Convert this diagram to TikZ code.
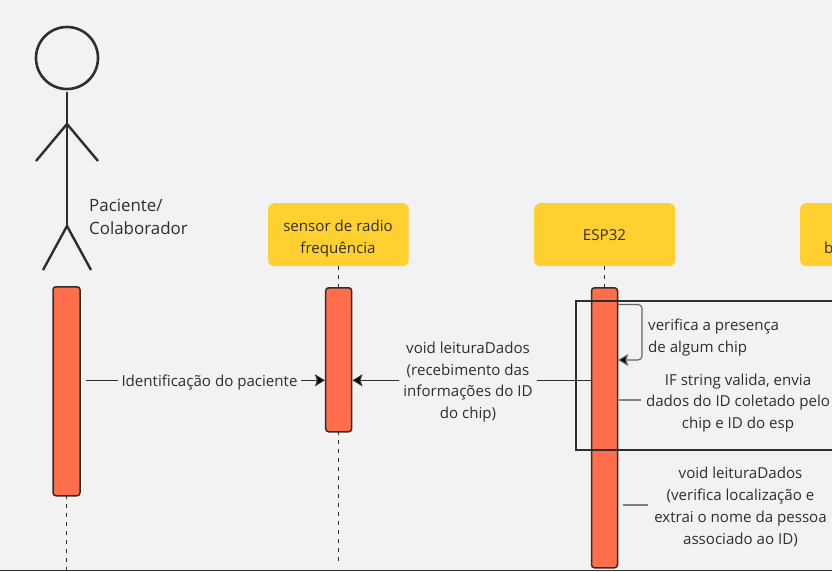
\documentclass[tikz,border=0pt]{standalone}
\usepackage{fontspec}
\setmainfont{Open Sans}
\usetikzlibrary{arrows.meta}
\definecolor{bgc}{HTML}{F2F2F2}
\definecolor{ink}{HTML}{2E2E2E}
\definecolor{yel}{HTML}{FFD02F}
\definecolor{org}{HTML}{FF6E4A}
\tikzset{
 x=1pt,y=-1pt,
 lbl/.style={font=\fontsize{15.1}{21.8}\selectfont,text=ink,align=center,inner sep=0pt},
 lifebox/.style={fill=yel,rounded corners=6pt,draw=none,minimum height=63pt,anchor=north west,inner sep=0pt},
 act/.style={fill=org,draw=ink,line width=1.5pt,rounded corners=3pt,anchor=north,minimum width=26pt,inner sep=0pt},
 life/.style={line width=.8pt,draw=ink,dash pattern=on 4pt off 5pt},
 msg/.style={line width=1.2pt,draw=ink},
 hd/.style={-{Stealth[length=10pt,width=12pt,inset=2pt,fill=black]}},
 note/.style={line width=1.1pt,draw=gray},
 stick/.style={line width=2.4pt,draw=ink}
}
\begin{document}
\begin{tikzpicture}
\useasboundingbox (0,0) rectangle (832,571);
\fill[bgc] (0,0) rectangle (832,571);
\begin{scope}
\clip (0,0) rectangle (832,571);
% actor
\node[circle,draw=ink,line width=2.6pt,minimum size=62pt,inner sep=0pt] (head) at (67,58) {};
\coordinate (neck) at (67,124);
\coordinate (hip) at (67,226);
\coordinate (handl) at (36,161);
\coordinate (handr) at (98,161);
\coordinate (footl) at (43,270);
\coordinate (footr) at (91,270);
\draw[stick] (head.south) ++(0,2) -- (hip);
\draw[stick] (handl) -- (neck) -- (handr);
\draw[stick] (footl) -- (hip) -- (footr);
\node[lbl,font=\fontsize{16.9}{23.8}\selectfont,align=left,anchor=north west] (actorlabel) at (89,198.5) {Paciente/\\Colaborador};
% lifeline heads
\node[lifebox,minimum width=140.5pt] (sensor) at (268,203) {};
\node[lbl] (sensortext) at (338,238.5) {sensor de radio\\frequência};
\node[lifebox,minimum width=141pt] (esp) at (534,203) {};
\node[lbl] (esptext) at (604.5,235.5) {ESP32};
\node[lifebox,minimum width=120pt] (third) at (800,203) {};
\node[lbl,anchor=base west] (thirdtext) at (824,253.5) {b};
% lifelines
\coordinate (a0) at (66.5,495);
\coordinate (a1) at (66.5,570);
\coordinate (s0) at (338,266);
\coordinate (s1) at (338,287);
\coordinate (s2) at (338,431);
\coordinate (s3) at (338,565);
\coordinate (e0) at (604.5,266);
\coordinate (e1) at (604.5,287);
\draw[life] (a0) -- (a1);
\draw[life] (s0) -- (s1);
\draw[life] (s2) -- (s3);
\draw[life] (e0) -- (e1);
% activations
\node[act,minimum width=27pt,minimum height=209pt] (aa) at (66.5,286) {};
\node[act,minimum height=144pt] (as) at (338.7,287) {};
\node[act,minimum height=280pt] (ae) at (604.5,287) {};
% frame
\node[draw=ink,line width=1.9pt,anchor=north west,minimum width=300pt,minimum height=149pt,inner sep=0pt] (frame) at (574.7,299.8) {};
% messages
\node[lbl] (m1) at (209.5,382.5) {Identificação do paciente};
\draw[msg] (86,380.3) -- (118,380.3);
\draw[msg,hd] (301,380.3) -- (as.west |- 0,380.3);
\node[lbl] (m2) at (468,382) {void leituraDados\\(recebimento das\\informações do ID\\do chip)};
\draw[msg,hd] (399,380.3) -- (as.east |- 0,380.3);
\draw[msg] (537,380.3) -- (ae.west |- 0,380.3);
% self message
\coordinate (self0) at (617.5,304.5);
\draw[line width=1.1pt,draw=ink!75!white,rounded corners=4pt,hd] (self0) -- (642,304.5) -- (642,360) -- (ae.east |- 0,360);
\node[lbl,align=left,anchor=north west] (m3) at (648,318.5) {verifica a presença\\de algum chip};
\node[lbl] (m4) at (738,403) {IF string valida, envia\\dados do ID coletado pelo\\chip e ID do esp};
\draw[note] (619,400) -- (641,400);
\node[lbl] (m5) at (740.5,507) {void leituraDados\\(verifica localização e\\extrai o nome da pessoa\\associado ao ID)};
\draw[note] (623,505) -- (648,505);
% bottom edge
\draw[line width=1.4pt,draw=ink] (0,570.5) -- (832,570.5);
\end{scope}
\end{tikzpicture}
\end{document}
